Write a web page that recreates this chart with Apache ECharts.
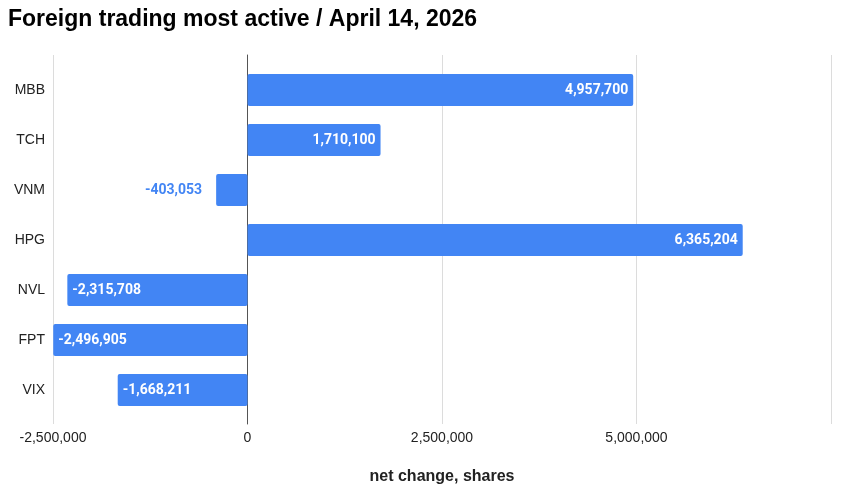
<!DOCTYPE html>
<html>
<head>
<meta charset="utf-8">
<script src="https://cdn.jsdelivr.net/npm/echarts@6/dist/echarts.min.js"></script>
<style>html,body{margin:0;padding:0;background:#fff}#c{width:843px;height:504px}</style>
</head>
<body>
<div id="c"></div>
<script>
const categories = ['MBB', 'TCH', 'VNM', 'HPG', 'NVL', 'FPT', 'VIX'];
const values = [4957700, 1710100, -403053, 6365204, -2315708, -2496905, -1668211];
const xTicks = [-2500000, 0, 2500000, 5000000, 7500000];

const fmt = v => v.toLocaleString('en-US');
const BLUE = '#4285f4';

const barData = values.map(v => {
  const small = Math.abs(v) < 1000000;
  let label;
  if (v >= 0) {
    label = {position: 'insideRight', distance: 5, color: '#fff'};
  } else if (small) {
    label = {position: 'left', distance: 14, color: BLUE};
  } else {
    label = {position: 'insideLeft', distance: 5, color: '#fff'};
  }
  return {value: v, label: label};
});

const chart = echarts.init(document.getElementById('c'));
chart.setOption({
  animation: false,
  title: {
    text: 'Foreign trading most active / April 14, 2026',
    left: 8, top: 8, padding: 0,
    textStyle: {fontFamily: 'Liberation Sans', fontWeight: 'bold', fontSize: 23, color: '#000'}
  },
  grid: [
    {left: 53, right: 12, top: 55, bottom: 80},
    {left: 53, right: 12, top: 65, bottom: 89}
  ],
  xAxis: [
    {
      gridIndex: 0, type: 'value', min: xTicks[0], max: xTicks[xTicks.length - 1], interval: 2500000,
      axisLine: {show: false}, axisTick: {show: false},
      splitLine: {show: true, lineStyle: {color: '#dcdcdc', width: 1}},
      axisLabel: {
        margin: 7, color: '#222', fontFamily: 'Liberation Sans', fontSize: 14,
        formatter: v => (v === xTicks[xTicks.length - 1] ? '' : fmt(v))
      },
      name: 'net change, shares', nameLocation: 'middle', nameGap: 45,
      nameTextStyle: {fontFamily: 'Liberation Sans', fontWeight: 'bold', fontSize: 16, color: '#222'}
    },
    {
      gridIndex: 1, type: 'value', min: xTicks[0], max: xTicks[xTicks.length - 1], interval: 2500000,
      axisLine: {show: false}, axisTick: {show: false}, axisLabel: {show: false}, splitLine: {show: false}
    }
  ],
  yAxis: [
    {
      gridIndex: 0, type: 'value', min: 0, max: 1,
      axisLine: {show: true, onZero: true, lineStyle: {color: '#555', width: 1}},
      axisTick: {show: false}, axisLabel: {show: false}, splitLine: {show: false}
    },
    {
      gridIndex: 1, type: 'category', data: categories, inverse: true,
      axisLine: {show: false, onZero: false}, axisTick: {show: false}, splitLine: {show: false},
      axisLabel: {margin: 8, color: '#222', fontFamily: 'Liberation Sans', fontSize: 14}
    }
  ],
  series: [{
    type: 'bar', xAxisIndex: 1, yAxisIndex: 1,
    data: barData,
    barCategoryGap: '36%',
    itemStyle: {color: BLUE, borderRadius: 2},
    label: {
      show: true, fontFamily: 'Roboto', fontWeight: 'bold', fontSize: 14,
      formatter: p => fmt(p.value)
    }
  }]
});
</script>
</body>
</html>
